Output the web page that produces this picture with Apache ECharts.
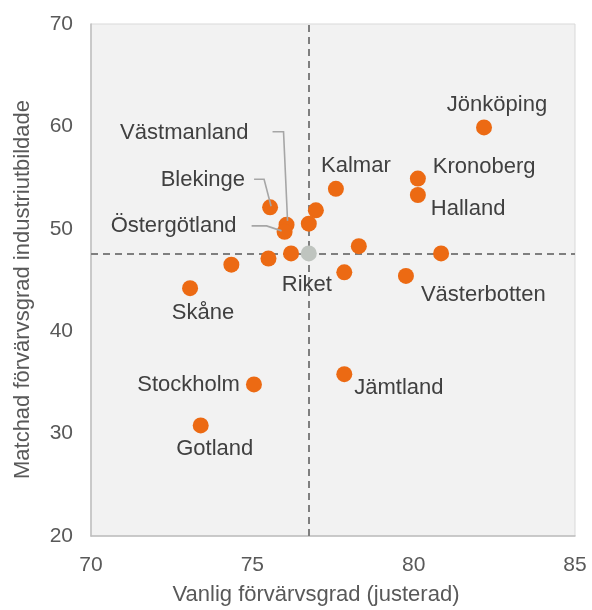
<!DOCTYPE html>
<html>
<head>
<meta charset="utf-8">
<script src="https://cdn.jsdelivr.net/npm/echarts@6/dist/echarts.min.js"></script>
<style>
  html, body { margin: 0; padding: 0; background: #ffffff; }
  #chart { width: 592px; height: 610px; }
</style>
</head>
<body>
<div id="chart"></div>
<script>
// Län: vanlig förvärvsgrad (justerad) mot matchad förvärvsgrad för industriutbildade
const countyNames = [
  'Jönköping', 'Kronoberg', 'Halland', 'Kalmar', '', '',
  'Blekinge', 'Västmanland', 'Östergötland', '', '', '',
  'Skåne', '', '', 'Västerbotten', '', 'Stockholm', 'Gotland', 'Jämtland'
];
const employmentRate = [
  82.18, 80.13, 80.13, 77.59, 76.97, 76.75,
  75.55, 76.06, 76.0, 76.2, 75.5, 74.35,
  73.07, 77.85, 78.3, 79.76, 80.85, 75.05, 73.4, 77.85
];
const matchedRate = [
  59.9, 54.9, 53.3, 53.9, 51.8, 50.5,
  52.1, 50.4, 49.7, 47.6, 47.1, 46.5,
  44.2, 45.75, 48.3, 45.4, 47.6, 34.8, 30.8, 35.8
];

// Riket (hela landet) – även referenslinjer
const nationName = 'Riket';
const nationEmployment = 76.75;
const nationMatched = 47.6;

const xTicks = [70, 75, 80, 85];
const yTicks = [20, 30, 40, 50, 60, 70];

// Placering av etiketter (pixelförskjutning från punktens mitt)
const labelPlacement = {
  'Jönköping':    { dx: 13,  dy: -22, align: 'center' },
  'Kronoberg':    { dx: 15,  dy: -12, align: 'left' },
  'Halland':      { dx: 13,  dy: 14,  align: 'left' },
  'Kalmar':       { dx: 20,  dy: -23, align: 'center' },
  'Västerbotten': { dx: 15,  dy: 19,  align: 'left' },
  'Skåne':        { dx: 13,  dy: 25,  align: 'center' },
  'Stockholm':    { dx: -14, dy: 0,   align: 'right' },
  'Gotland':      { dx: 14,  dy: 24,  align: 'center' },
  'Jämtland':     { dx: 10,  dy: 14,  align: 'left' },
  'Västmanland':  { dx: -38, dy: -92, align: 'right' },
  'Blekinge':     { dx: -25, dy: -27, align: 'right' },
  'Östergötland': { dx: -48, dy: -6,  align: 'right' }
};

// Hänvisningslinjer (pixelpunkter relativt punktens mitt)
const leaderPaths = {
  'Västmanland':  [[-14, -93], [-3, -93], [1, -4]],
  'Blekinge':     [[-16, -28], [-6, -28], [1, -1]],
  'Östergötland': [[-33, -6], [-18, -6], [-3, -1]]
};

const FONT = 'Liberation Sans, Arial, sans-serif';
const SYMBOL = 8;

const points = employmentRate.map((x, i) => {
  const name = countyNames[i];
  const p = labelPlacement[name];
  const item = { name: name, value: [x, matchedRate[i]] };
  if (p) {
    item.label = {
      show: true,
      formatter: name,
      position: [SYMBOL + p.dx, SYMBOL + p.dy],
      align: p.align,
      verticalAlign: 'middle'
    };
  }
  return item;
});

const leaderData = [];
countyNames.forEach((n, i) => {
  if (leaderPaths[n]) leaderData.push([employmentRate[i], matchedRate[i], n]);
});

const chart = echarts.init(document.getElementById('chart'), null, { renderer: 'canvas' });

chart.setOption({
  animation: false,
  backgroundColor: '#ffffff',
  textStyle: { fontFamily: FONT },
  grid: {
    left: 91, right: 17, top: 24, bottom: 74,
    outerBoundsMode: 'none',
    containLabel: false,
    show: true,
    backgroundColor: '#f2f2f2',
    borderColor: '#d9d9d9',
    borderWidth: 1
  },
  xAxis: {
    type: 'value',
    min: xTicks[0], max: xTicks[xTicks.length - 1], interval: 5,
    name: 'Vanlig förvärvsgrad (justerad)',
    nameLocation: 'middle',
    nameGap: 48,
    nameTextStyle: { fontSize: 22, color: '#595959', fontFamily: FONT, padding: [0, 34, 0, 0] },
    axisLine: { show: true, lineStyle: { color: '#bfbfbf', width: 1.5 } },
    axisTick: { show: false },
    splitLine: { show: false },
    axisLabel: { fontSize: 21, color: '#595959', margin: 19, fontFamily: FONT }
  },
  yAxis: {
    type: 'value',
    min: yTicks[0], max: yTicks[yTicks.length - 1], interval: 10,
    name: 'Matchad förvärvsgrad industriutbildade',
    nameLocation: 'middle',
    nameGap: 57,
    nameTextStyle: { fontSize: 22, color: '#595959', fontFamily: FONT, padding: [0, 19, 0, 0] },
    axisLine: { show: true, lineStyle: { color: '#bfbfbf', width: 1.5 } },
    axisTick: { show: false },
    splitLine: { show: false },
    axisLabel: { fontSize: 21, color: '#595959', margin: 18, fontFamily: FONT }
  },
  series: [
    {
      name: 'Län',
      type: 'scatter',
      symbolSize: SYMBOL * 2,
      itemStyle: { color: '#ec6a13', opacity: 1 },
      label: { show: false, fontSize: 22, color: '#404040', fontFamily: FONT },
      data: points,
      z: 3,
      markLine: {
        silent: true,
        symbol: 'none',
        label: { show: false },
        lineStyle: { color: '#7f7f7f', type: [7, 5], width: 2 },
        data: [{ xAxis: nationEmployment }, { yAxis: nationMatched }],
        z: 2
      }
    },
    {
      name: nationName,
      type: 'scatter',
      symbolSize: SYMBOL * 2,
      itemStyle: { color: '#bfc4bf', opacity: 1 },
      label: {
        show: true,
        formatter: nationName,
        position: [SYMBOL - 2, SYMBOL + 32],
        align: 'center',
        verticalAlign: 'middle',
        fontSize: 22, color: '#404040', fontFamily: FONT
      },
      data: [[nationEmployment, nationMatched]],
      z: 4
    },
    {
      name: 'Hänvisning',
      type: 'custom',
      silent: true,
      z: 5,
      data: leaderData,
      renderItem: function (params, api) {
        const c = api.coord([api.value(0), api.value(1)]);
        const key = leaderData[params.dataIndex][2];
        const pts = leaderPaths[key].map(d => [c[0] + d[0], c[1] + d[1]]);
        return {
          type: 'polyline',
          shape: { points: pts },
          style: { stroke: '#a6a6a6', lineWidth: 1.6, fill: null }
        };
      }
    }
  ]
});
</script>
</body>
</html>
